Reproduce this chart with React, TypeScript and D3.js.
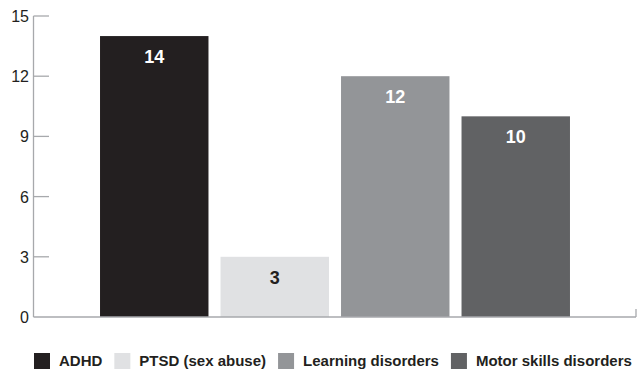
import { useEffect, useRef } from 'react';
import * as d3 from 'd3';

const categories = ['ADHD', 'PTSD (sex abuse)', 'Learning disorders', 'Motor skills disorders'];
const values = [14, 3, 12, 10];
const colors = ['#231f20', '#e0e1e3', '#939598', '#616264'];
const labelColors = ['#ffffff', '#231f20', '#ffffff', '#ffffff'];
const yTicks = [0, 3, 6, 9, 12, 15];

const W = 640;
const H = 374;
const FONT = '"Liberation Sans", Arial, sans-serif';
const AXIS = '#a7a9ac';
const INK = '#231f20';

export default function App() {
  const ref = useRef<SVGGElement>(null);

  useEffect(() => {
    const g = d3.select(ref.current);
    g.selectAll('*').remove();

    const y = d3.scaleLinear().domain([0, 15]).range([317, 16]);
    const x = d3.scaleBand<string>().domain(categories).range([94, 576]).paddingInner(0.1).paddingOuter(0.05);
    const axisX = 33.5;

    // bars
    g.append('g')
      .selectAll('rect')
      .data(values)
      .join('rect')
      .attr('x', (d, i) => x(categories[i]))
      .attr('width', x.bandwidth())
      .attr('y', (d) => y(d))
      .attr('height', (d) => y(0) - y(d))
      .attr('fill', (d, i) => colors[i]);

    // value labels
    g.append('g')
      .selectAll('text')
      .data(values)
      .join('text')
      .attr('x', (d, i) => x(categories[i]) + x.bandwidth() / 2)
      .attr('y', (d) => y(d) + 27)
      .attr('text-anchor', 'middle')
      .attr('font-family', FONT)
      .attr('font-weight', 'bold')
      .attr('font-size', 18)
      .attr('fill', (d, i) => labelColors[i])
      .text((d) => d);

    // y axis
    const ax = g.append('g').attr('stroke', AXIS).attr('stroke-width', 1.3);
    ax.append('line').attr('x1', axisX).attr('x2', axisX).attr('y1', y(15)).attr('y2', y(0));
    ax.append('line').attr('x1', axisX).attr('x2', 636).attr('y1', y(0)).attr('y2', y(0));
    ax.append('line').attr('x1', 636).attr('x2', 636).attr('y1', y(0)).attr('y2', y(0) - 8);
    ax.selectAll('line.tick')
      .data(yTicks.filter((t) => t > 0))
      .join('line')
      .attr('class', 'tick')
      .attr('x1', axisX)
      .attr('x2', 49)
      .attr('y1', (d) => y(d))
      .attr('y2', (d) => y(d));

    g.append('g')
      .selectAll('text')
      .data(yTicks)
      .join('text')
      .attr('x', 29)
      .attr('y', (d) => y(d) + 6)
      .attr('text-anchor', 'end')
      .attr('font-family', FONT)
      .attr('font-size', 16)
      .attr('fill', INK)
      .text((d) => d);

    // legend
    const leg = g.append('g').attr('transform', 'translate(34,353)');
    let cx = 0;
    categories.forEach((c, i) => {
      leg.append('rect').attr('x', cx).attr('y', 0).attr('width', 16).attr('height', 16).attr('fill', colors[i]);
      const t = leg
        .append('text')
        .attr('x', cx + 25)
        .attr('y', 13)
        .attr('font-family', FONT)
        .attr('font-weight', 'bold')
        .attr('font-size', 15)
        .attr('fill', INK)
        .text(c);
      const w = (t.node() as SVGTextElement).getComputedTextLength();
      cx += 25 + w + 12;
    });
  }, []);

  return (
    <svg width={W} height={H} style={{ position: 'absolute', left: 0, top: 0 }}>
      <rect width={W} height={H} fill="#ffffff" />
      <g ref={ref}></g>
    </svg>
  );
}
